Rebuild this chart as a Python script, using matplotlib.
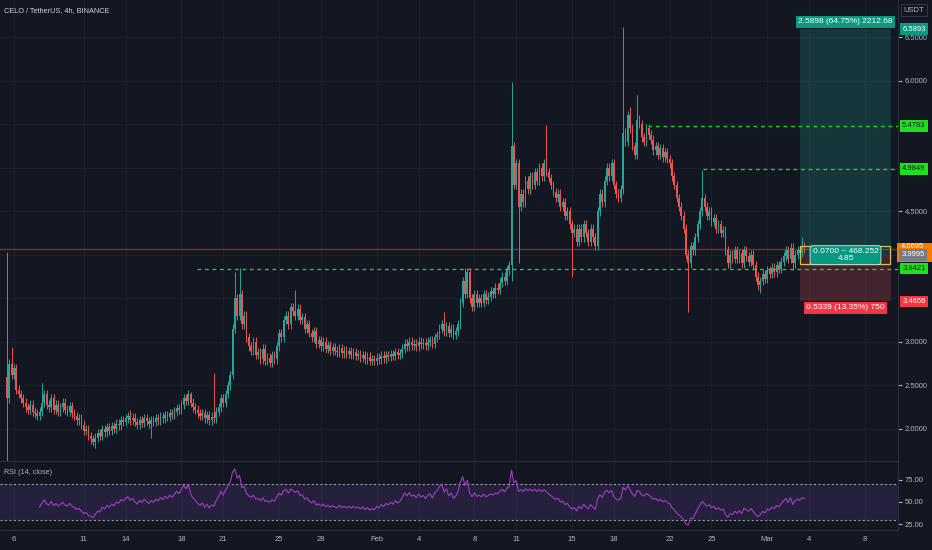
import numpy as np
import matplotlib
matplotlib.use("Agg")
import matplotlib.pyplot as plt
from matplotlib.patches import Rectangle

plt.rcParams['font.family'] = ['Liberation Sans Narrow', 'Liberation Sans', 'DejaVu Sans']

# ---- data (CELO/USDT 4h) ----
first_open = 2.60
closes = [
    2.35, 2.75, 2.62, 2.70, 2.45, 2.40, 2.35,
    2.30, 2.25, 2.22, 2.28, 2.20, 2.18, 2.15, 2.20,
    2.30, 2.40, 2.28, 2.25, 2.35, 2.22,
    2.28, 2.20, 2.25, 2.30, 2.22, 2.20, 2.26, 2.18,
    2.15, 2.10, 2.12, 2.05, 1.98, 2.00, 1.92, 1.88, 1.85, 1.90,
    1.95, 1.92, 2.00, 1.96, 2.02, 1.98, 2.03, 2.00, 2.06, 2.04,
    2.10, 2.08, 2.12, 2.15, 2.10, 2.13, 2.08, 2.05, 2.10, 2.07, 2.12, 2.09, 2.06, 2.10,
    2.08, 2.12, 2.10, 2.14, 2.12, 2.16, 2.14, 2.18, 2.16, 2.20, 2.24, 2.22,
    2.28, 2.35, 2.32, 2.40, 2.30, 2.25, 2.22, 2.18,
    2.15, 2.18, 2.12, 2.16, 2.10, 2.14, 2.12, 2.20,
    2.25, 2.35, 2.30, 2.40, 2.50,
    2.62, 3.15, 3.50, 3.30, 3.55, 3.20, 3.30, 3.05, 2.95,
    2.90, 3.00, 2.85, 2.88, 2.80, 2.92, 2.78, 2.82, 2.76, 2.85, 2.80,
    2.95, 3.10, 3.05, 3.25, 3.30, 3.20, 3.40, 3.35, 3.30, 3.38,
    3.25, 3.28, 3.15, 3.20, 3.10, 3.05, 3.12, 2.98, 3.02, 2.95, 3.00, 2.92, 2.96, 2.90, 2.94,
    2.90, 2.88, 2.93, 2.87, 2.90, 2.86, 2.89, 2.85, 2.88, 2.84, 2.86, 2.82, 2.85, 2.80, 2.83, 2.78,
    2.80, 2.78, 2.82, 2.80, 2.84, 2.81, 2.85, 2.83, 2.86, 2.84, 2.88, 2.85, 2.87,
    2.92, 2.98, 2.95, 3.00, 2.96, 2.98, 2.95, 3.00, 2.97, 2.99, 2.96, 3.00, 3.02, 2.98, 3.05,
    3.08, 3.15, 3.20, 3.12, 3.18, 3.10, 3.15, 3.08, 3.12, 3.20,
    3.45, 3.70, 3.55, 3.80, 3.50, 3.40, 3.55, 3.45,
    3.50, 3.45, 3.55, 3.48, 3.52, 3.58, 3.55, 3.62, 3.60, 3.68,
    3.75, 3.70, 3.82, 3.88,
    5.25, 4.80, 5.05, 4.55, 4.70,
    4.60, 4.85, 4.75, 4.90, 4.80, 4.95, 4.85, 5.00, 4.90,
    5.05, 4.95, 4.88, 4.80, 4.72, 4.65, 4.70,
    4.55, 4.60, 4.45, 4.50, 4.35, 4.25, 4.30, 4.15,
    4.30, 4.20, 4.35, 4.25, 4.15, 4.30, 4.20, 4.10,
    4.50, 4.70, 4.60, 4.85, 5.00, 4.90, 5.05,
    4.80, 4.70, 4.65, 4.75,
    5.40, 5.30, 5.60, 5.45, 5.25, 5.15,
    5.55, 5.50, 5.35, 5.30, 5.45, 5.38,
    5.32, 5.20, 5.25, 5.15, 5.22, 5.12, 5.18, 5.10,
    5.05, 4.90, 4.80, 4.65, 4.55,
    4.45, 4.30, 4.00, 3.90, 4.10, 4.05, 4.20,
    4.35, 4.50, 4.65, 4.55,
    4.45, 4.50, 4.38, 4.42, 4.30, 4.35, 4.25, 4.28,
    4.05, 3.90, 4.00, 3.95,
    4.05, 3.95, 4.02, 3.90, 4.05, 3.98, 3.92, 4.00, 3.88,
    3.75, 3.65, 3.70, 3.78, 3.72,
    3.82, 3.78, 3.85, 3.80, 3.88, 3.84, 3.92,
    3.98, 4.05, 3.95, 4.08, 3.90, 4.00,
    4.05, 4.02, 4.10, 4.0695,
]
# wick extremes that stand out (candle index -> price)
spike_highs = {0: 4.03, 2: 2.94, 15: 2.53, 53: 2.22, 79: 2.42, 89: 2.64, 98: 3.80,
               100: 3.85, 124: 3.59, 188: 3.34, 197: 3.85, 199: 3.85, 217: 5.98,
               232: 5.49, 265: 6.62, 268: 5.70, 271: 5.83, 299: 4.97, 342: 4.20}
spike_lows = {0: 1.62, 38: 1.78, 62: 1.90, 217: 3.70, 220: 3.90, 243: 3.74,
              293: 3.34, 324: 3.56, 338: 3.83}

date_days = [0, 5, 8, 12, 15, 19, 22, 26, 29, 33, 36, 40, 43, 47, 50, 54, 57, 61]
date_labels = ['6', '11', '14', '18', '21', '25', '28', 'Feb', '4', '8', '11',
               '15', '18', '22', '25', 'Mar', '4', '8']

last_price = 4.0695
support = 3.8421
targets = [5.4783, 4.9849]
pos_target, pos_entry, pos_stop = 6.5893, 3.9995, 3.4656

BG = '#131722'
UP, DN = '#26a69a', '#ef5350'
TXT = '#b2b5be'
GRID = '#1c202c'
LIME = '#1fe01f'
FS = 5.5

closes = np.array(closes)
n = len(closes)
idx = np.arange(n)
opens = np.r_[first_open, closes[:-1]]
wick = 0.05
highs = np.maximum(opens, closes) + wick
lows = np.minimum(opens, closes) - wick
for k, v in spike_highs.items():
    highs[k] = v
for k, v in spike_lows.items():
    lows[k] = v

# RSI 14 (Wilder)
delta = np.diff(closes)
gain = np.clip(delta, 0, None)
loss = np.clip(-delta, 0, None)
rsi = np.full(n, np.nan)
ag, al = gain[:14].mean(), loss[:14].mean()
rsi[14] = 100 - 100 / (1 + ag / al)
for k in range(15, n):
    ag = (ag * 13 + gain[k - 1]) / 14
    al = (al * 13 + loss[k - 1]) / 14
    rsi[k] = 100 - 100 / (1 + ag / al)

W, H = 932, 550
fig = plt.figure(figsize=(W / 100, H / 100), dpi=100, facecolor=BG)
ax = fig.add_axes([0, 1 - 461 / H, 898 / W, 461 / H], facecolor=BG)
ax2 = fig.add_axes([0, 1 - 530 / H, 898 / W, 69 / H], facecolor=BG)

xlim = (-7 / 2.325, 891 / 2.325)
ax.set_xlim(*xlim)
ax2.set_xlim(*xlim)
ylo, yhi = 6.5 - 424 / 87.1, 6.5 + 37 / 87.1
ax.set_ylim(ylo, yhi)

# grid
for p in np.arange(2.0, 6.51, 0.5):
    ax.axhline(p, color=GRID, lw=0.8, zorder=0)
date_pos = [3 + 6 * d for d in date_days]
for xp in date_pos:
    ax.axvline(xp, color=GRID, lw=0.8, zorder=0)
    ax2.axvline(xp, color=GRID, lw=0.8, zorder=0)

# candles
col = np.where(closes >= opens, UP, DN)
ax.vlines(idx, lows, highs, colors=col, lw=0.7, zorder=2)
body_h = np.maximum(np.abs(closes - opens), 0.006)
ax.bar(idx, body_h, bottom=np.minimum(opens, closes), width=0.75, color=col,
       edgecolor='none', zorder=3)

# last price line and levels
ax.axhline(last_price, color='#b5532a', lw=1, alpha=0.55, zorder=1)
ax.hlines(support, (197 - 7) / 2.325, xlim[1], colors=LIME, lw=0.9,
          linestyles=(0, (3, 3)), zorder=4)
ax.hlines(targets[0], (648 - 7) / 2.325, xlim[1], colors=LIME, lw=0.9,
          linestyles=(0, (3, 3)), zorder=4)
ax.hlines(targets[1], (703 - 7) / 2.325, xlim[1], colors=LIME, lw=0.9,
          linestyles=(0, (3, 3)), zorder=4)

# long position tool
px0, px1 = (800 - 7) / 2.325, (891 - 7) / 2.325
ax.add_patch(Rectangle((px0, pos_entry), px1 - px0, pos_target - pos_entry,
                       fc=UP, alpha=0.22, ec='none', zorder=1))
ax.add_patch(Rectangle((px0, pos_stop), px1 - px0, pos_entry - pos_stop,
                       fc=DN, alpha=0.22, ec='none', zorder=1))
ax.add_patch(Rectangle((px0, 3.89), px1 - px0 - 0.3, 0.21, fc='none',
                       ec='#d8c24a', lw=0.9, zorder=5))
pc = (px0 + px1) / 2
ax.text(pc, 6.675, '2.5898 (64.75%) 2212.68', color='white', fontsize=6,
        ha='center', va='center', zorder=6,
        bbox=dict(boxstyle='square,pad=0.3', fc='#089981', ec='none'))
ax.text(pc, 3.39, '0.5339 (13.35%) 750', color='white', fontsize=6,
        ha='center', va='center', zorder=6,
        bbox=dict(boxstyle='square,pad=0.3', fc='#f23645', ec='none'))
ax.text(pc, 3.995, '0.0700 ~ 468.252\n4.85', color='white', fontsize=6,
        ha='center', va='center', linespacing=1.0, zorder=6,
        bbox=dict(boxstyle='round,pad=0.3,rounding_size=0.3', fc='#089981',
                  ec='#e0e3eb', lw=0.6))

# price axis
for a in (ax, ax2):
    for s in a.spines.values():
        s.set_visible(False)
    a.spines['right'].set_visible(True)
    a.spines['right'].set_color('#2a2e39')
ax2.spines['top'].set_visible(True)
ax2.spines['top'].set_color('#2a2e39')
ax2.spines['bottom'].set_visible(True)
ax2.spines['bottom'].set_color('#2a2e39')

ax.yaxis.tick_right()
ax.set_yticks([2.0, 2.5, 3.0, 4.5, 6.0, 6.5])
ax.set_yticklabels(['%.4f' % v for v in [2.0, 2.5, 3.0, 4.5, 6.0, 6.5]])
ax.tick_params(axis='y', colors=TXT, labelsize=FS, length=3, pad=2)
ax.tick_params(axis='x', bottom=False, labelbottom=False)


def axis_tag(a, price, text, fc, tc='white'):
    a.annotate(text, xy=(1.0, price), xycoords=('axes fraction', 'data'),
               xytext=(3, 0), textcoords='offset points', ha='left',
               va='center', fontsize=FS, color=tc, annotation_clip=False,
               bbox=dict(boxstyle='square,pad=0.3', fc=fc, ec='none'), zorder=10)


def fig_y(price):
    # figure fraction of a price in the main pane
    b = 1 - 461 / H
    return b + (price - ylo) / (yhi - ylo) * 461 / H


axis_tag(ax, pos_target, '6.5893', '#089981')
axis_tag(ax, targets[0], '5.4783', LIME, '#131722')
axis_tag(ax, targets[1], '4.9849', LIME, '#131722')
axis_tag(ax, support, '3.8421', LIME, '#131722')
axis_tag(ax, pos_stop, '3.4656', '#f23645')
# last price tag (orange) partly covered by the entry tag, as on the chart
fig.patches.append(Rectangle((897 / W, 1 - 262 / H), 35 / W, 19 / H, fc='#f57c00',
                             ec='none', transform=fig.transFigure, zorder=9))
fig.text(901 / W, 1 - 247 / H, '4.0695', color='white', fontsize=FS,
         ha='left', va='center', zorder=10)
fig.text(901.5 / W, fig_y(pos_entry), '3.9995', color='white', fontsize=FS,
         ha='left', va='center', zorder=11,
         bbox=dict(boxstyle='square,pad=0.3', fc='#787b86', ec='none'))

fig.text(914 / W, 1 - 10 / H, 'USDT', color=TXT, fontsize=5.5, ha='center', va='center',
         bbox=dict(boxstyle='square,pad=0.35', fc=BG, ec='#363a45', lw=0.6))
fig.text(4 / W, 1 - 11 / H, 'CELO / TetherUS, 4h, BINANCE', color='#d1d4dc',
         fontsize=5.3, ha='left', va='center')

# RSI pane
ax2.set_ylim(50 - 28 / 0.89, 50 + 41 / 0.89)
ax2.axhspan(30, 70, color='#7e57c2', alpha=0.17, lw=0, zorder=0)
ax2.axhline(70, color='#9598a1', lw=0.8, ls=(0, (2, 2)))
ax2.axhline(30, color='#9598a1', lw=0.8, ls=(0, (2, 2)))
ax2.plot(idx, rsi, color='#a23cc8', lw=0.8, zorder=3)
ax2.yaxis.tick_right()
ax2.set_yticks([25, 50, 75])
ax2.set_yticklabels(['25.00', '50.00', '75.00'])
ax2.tick_params(axis='y', colors=TXT, labelsize=FS, length=3, pad=2)
ax2.set_xticks(date_pos)
ax2.set_xticklabels(date_labels)
ax2.tick_params(axis='x', colors=TXT, labelsize=FS, length=0, pad=4)
ax2.text(4 / 898, 1 - 11 / 69, 'RSI (14, close)', transform=ax2.transAxes,
         color=TXT, fontsize=5.2, ha='left', va='center')

fig.savefig('out.png', dpi=100, facecolor=BG)
